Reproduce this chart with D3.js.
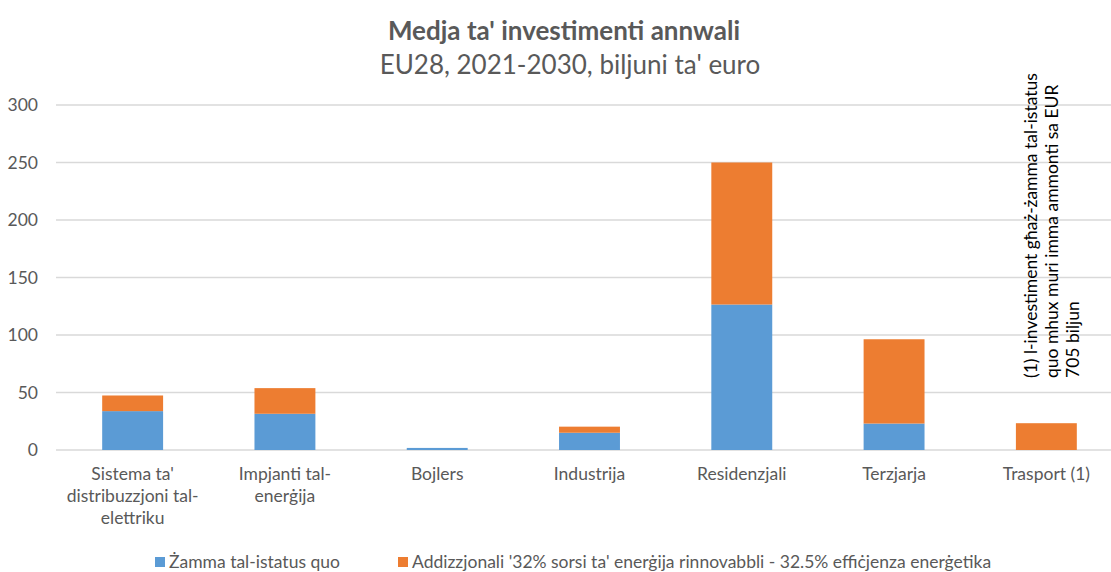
<!DOCTYPE html>
<html><head><meta charset="utf-8">
<script src="https://cdn.jsdelivr.net/npm/d3@7"></script>
<style>
body{margin:0;background:#fff;}
svg{display:block;font-family:Lato,"Open Sans",sans-serif;}
</style></head>
<body>
<svg id="c" width="1111" height="572"></svg>
<script>
const categories = [["Sistema ta'","distribuzzjoni tal-","elettriku"],["Impjanti tal-","enerġija"],["Bojlers"],["Industrija"],["Residenzjali"],["Terzjarja"],["Trasport (1)"]];
const statusQuo = [33.8, 31.5, 1.8, 15, 126.5, 23, 0];
const additional = [13.6, 22.3, 0, 5.3, 123.5, 73.3, 23.3];
const yTicks = [0, 50, 100, 150, 200, 250, 300];
const seriesNames = ["Żamma tal-istatus quo", "Addizzjonali '32% sorsi ta' enerġija rinnovabbli - 32.5% effiċjenza enerġetika"];
const colors = ["#5B9BD5", "#ED7D31"];
const title = "Medja ta' investimenti annwali";
const subtitle = "EU28, 2021-2030, biljuni ta' euro";
const note = ["(1) l-investiment għaż-żamma tal-istatus", "quo mhux muri imma ammonti sa EUR", "705 biljun"];

const svg = d3.select("#c");
const textColor = "#595959";
const fs = 17.5;
const x = d3.scaleBand().domain(d3.range(categories.length)).range([56.5, 1122.5]).paddingInner(0.6).paddingOuter(0.3);
const y = d3.scaleLinear().domain([0, 300]).range([450, 105]);

// gridlines
svg.append("g").selectAll("line").data(yTicks).join("line")
  .attr("x1", 56).attr("x2", 1111)
  .attr("y1", d => y(d)).attr("y2", d => y(d))
  .attr("stroke", "#D9D9D9").attr("stroke-width", 1.3);

// y labels
svg.append("g").selectAll("text").data(yTicks).join("text")
  .attr("x", 38).attr("y", d => y(d)).attr("dy", "0.35em")
  .attr("text-anchor", "end").attr("fill", textColor).attr("font-size", fs)
  .text(d => d);

// stacked bars
const rows = categories.map((c, i) => ({i, a: statusQuo[i], b: additional[i]}));
const stack = d3.stack().keys(["a", "b"])(rows);
svg.append("g").selectAll("g").data(stack).join("g")
  .attr("fill", (d, k) => colors[k])
  .selectAll("rect").data(d => d).join("rect")
  .attr("x", d => x(d.data.i)).attr("width", x.bandwidth())
  .attr("y", d => y(d[1])).attr("height", d => y(d[0]) - y(d[1]));

// x labels
const xl = svg.append("g").selectAll("text").data(categories).join("text")
  .attr("text-anchor", "middle").attr("fill", textColor).attr("font-size", fs)
  .attr("transform", (d, i) => `translate(${x(i) + x.bandwidth() / 2},480)`);
xl.selectAll("tspan").data(d => d).join("tspan")
  .attr("x", 0).attr("y", (d, j) => j * 22).text(d => d);

// title
svg.append("text").attr("x", 564).attr("y", 40).attr("text-anchor", "middle")
  .attr("fill", textColor).attr("font-size", 26).attr("font-weight", "bold").text(title);
svg.append("text").attr("x", 570).attr("y", 74).attr("text-anchor", "middle")
  .attr("fill", textColor).attr("font-size", 26).text(subtitle);

// rotated note
svg.append("g").selectAll("text").data(note).join("text")
  .attr("transform", (d, i) => `translate(${1037 + i * 21},378) rotate(-90)`)
  .attr("fill", "#000").attr("font-size", fs).text(d => d);

// legend
const lx = [155, 398];
const lg = svg.append("g").selectAll("g").data(seriesNames).join("g")
  .attr("transform", (d, i) => `translate(${lx[i]},557)`);
lg.append("rect").attr("width", 10).attr("height", 10).attr("fill", (d, i) => colors[i]);
lg.append("text").attr("x", 14).attr("y", 11).attr("fill", textColor).attr("font-size", fs).text(d => d);
</script>
</body></html>
